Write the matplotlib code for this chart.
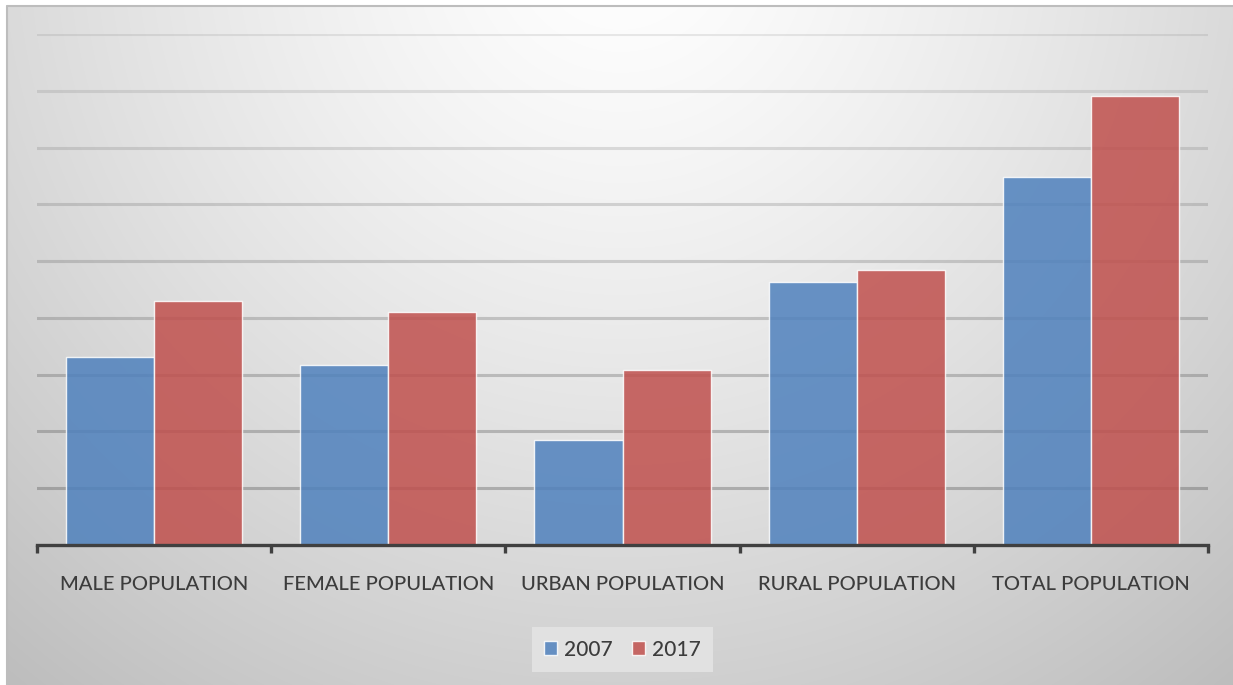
import numpy as np
import matplotlib.pyplot as plt
from matplotlib.lines import Line2D

plt.rcParams['font.family'] = ['Lato', 'DejaVu Sans']

# population by group (same unit for both years)
categories = ['MALE POPULATION', 'FEMALE POPULATION', 'URBAN POPULATION',
              'RURAL POPULATION', 'TOTAL POPULATION']
pop_2007 = [3.31, 3.17, 1.85, 4.63, 6.48]
pop_2017 = [4.30, 4.10, 3.08, 4.84, 7.90]
years = ['2007', '2017']

blue = '#4f81bd'
red = '#c0504d'
text_col = '#3c3c3c'

W, H = 1233, 685
fig = plt.figure(figsize=(W / 100, H / 100), dpi=100)
fig.patch.set_facecolor('white')

# shaded chart-area background: light at the top middle, greyer towards the edges
bg = fig.add_axes([0, 0, 1, 1], zorder=-10)
yy, xx = np.mgrid[0:H, 0:W]
d = np.hypot(xx - 620, yy + 60)
shade = 255 - 42 * (d / 680) ** 1.3
shade = np.clip(shade, 150, 255) / 255
img = np.dstack([shade, shade, shade])
img[:5, :, :] = 1
img[:, :6, :] = 1
bg.imshow(img, aspect='auto', interpolation='bilinear')
bg.set_axis_off()
# chart frame, only its left and top edges fall inside the image
fig.lines.append(Line2D([6.5 / W, 6.5 / W, 1], [0, 1 - 5.5 / H, 1 - 5.5 / H],
                        transform=fig.transFigure, color='#bdbdbd', linewidth=1.5, zorder=-5))

ax = fig.add_axes([37 / W, 140 / H, 1171 / W, 511 / H])
ax.set_facecolor('none')

x = np.arange(len(categories))
bw = 0.376
ax.bar(x - bw / 2, pop_2007, bw, color=blue, alpha=0.85, edgecolor='white',
       linewidth=1, label=years[0], zorder=3)
ax.bar(x + bw / 2, pop_2017, bw, color=red, alpha=0.85, edgecolor='white',
       linewidth=1, label=years[1], zorder=3)

ax.set_xlim(-0.5, len(categories) - 0.5)
ax.set_ylim(0, 9)

# gridlines get darker towards the bottom
levels = np.arange(1, 10)
for lv in levels:
    a = 0.36 - 0.03 * (lv - 1)
    ax.axhline(lv, color='#555555', alpha=a, linewidth=2.2, zorder=1)

for s in ['top', 'right', 'left']:
    ax.spines[s].set_visible(False)
ax.spines['bottom'].set_color('#404040')
ax.spines['bottom'].set_linewidth(2.4)
ax.spines['bottom'].set_zorder(5)
ax.set_yticks([])

ax.set_xticks(x)
ax.set_xticklabels(categories, fontsize=14.5, color=text_col, fontweight='medium')
ax.tick_params(axis='x', which='major', length=0, pad=22.5)
ax.set_xticks(np.arange(-0.5, len(categories)), minor=True)
ax.tick_params(axis='x', which='minor', length=6, width=2.4, color='#404040', direction='out')

leg = fig.legend(loc='center', bbox_to_anchor=(622.5 / W, 1 - 649.5 / H), ncol=2,
                 prop={'size': 15, 'weight': 'medium'}, frameon=True, fancybox=False,
                 framealpha=1, handlelength=0.62, handleheight=0.62, handletextpad=0.35,
                 columnspacing=0.9, borderpad=0.6)
leg.get_frame().set_facecolor('#e1e1e1')
leg.get_frame().set_edgecolor('none')
for t in leg.get_texts():
    t.set_color(text_col)

fig.savefig('out.png', dpi=100)
